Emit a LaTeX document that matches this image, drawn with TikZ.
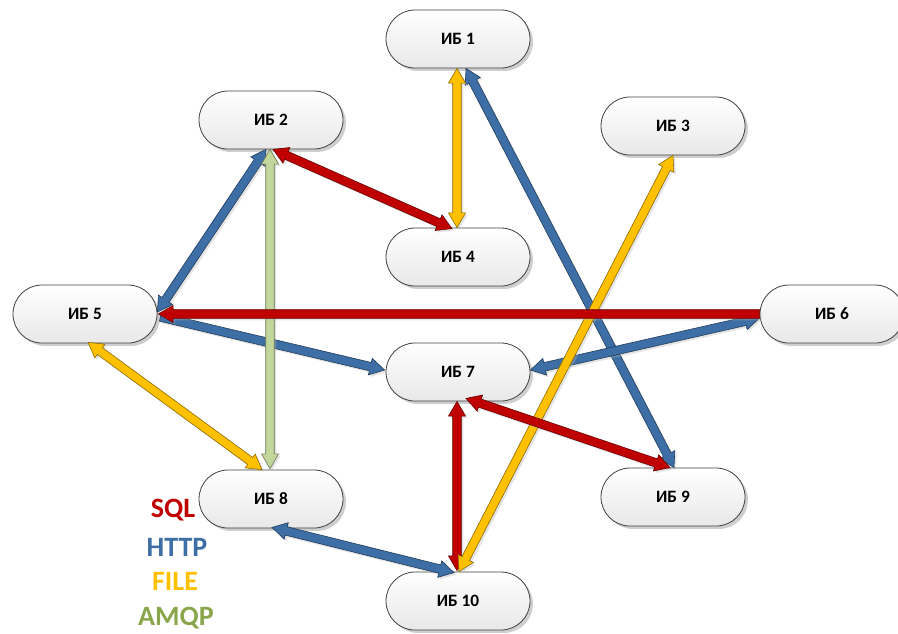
\documentclass[tikz,border=0pt]{standalone}
\usepackage{fontspec}
\setmainfont{Carlito}
\usetikzlibrary{calc,shadows}
\definecolor{sqlred}{HTML}{C00000}
\definecolor{httpblue}{HTML}{3D6FA6}
\definecolor{fileyellow}{HTML}{FFC000}
\definecolor{amqpfill}{HTML}{C3D69B}
\definecolor{amqptext}{HTML}{8AA64C}
\def\ahl{11pt}
\def\ahw{6.4pt}
\def\asw{3.2pt}
\tikzset{
  ib/.style={rectangle, rounded corners=21.7pt, minimum width=108pt, minimum height=43.5pt,
    draw=black!75, line width=0.6pt, top color=white, bottom color=black!9,
    drop shadow={shadow xshift=2.2pt, shadow yshift=-2.2pt, fill=black!35, opacity=0.55},
    font=\fontsize{13}{15}\selectfont\bfseries, text=black},
  blockarrow/.style={fill=#1, draw=#1!55!black, line width=0.45pt, line join=miter,
    drop shadow={shadow xshift=1.5pt, shadow yshift=-1.5pt, fill=black!30, opacity=0.35}},
  legend/.style={font=\fontsize{21}{25}\selectfont\bfseries, text=#1}
}
\newcommand\dblarrow[3]{%
  \coordinate (qA) at #2; \coordinate (qB) at #3;
  \coordinate (q1) at ($(qA)!\ahl!(qB)$);
  \coordinate (q2) at ($(qB)!\ahl!(qA)$);
  \path[blockarrow=#1] (qA) -- ($(q1)!\ahw!90:(qB)$) -- ($(q1)!\asw!90:(qB)$)
    -- ($(q2)!\asw!-90:(qA)$) -- ($(q2)!\ahw!-90:(qA)$) -- (qB)
    -- ($(q2)!\ahw!90:(qA)$) -- ($(q2)!\asw!90:(qA)$)
    -- ($(q1)!\asw!-90:(qB)$) -- ($(q1)!\ahw!-90:(qB)$) -- cycle;
}
\newcommand\sglarrow[3]{%
  \coordinate (qA) at #2; \coordinate (qB) at #3;
  \coordinate (q2) at ($(qB)!\ahl!(qA)$);
  \path[blockarrow=#1] ($(qA)!\asw!90:(qB)$)
    -- ($(q2)!\asw!-90:(qA)$) -- ($(q2)!\ahw!-90:(qA)$) -- (qB)
    -- ($(q2)!\ahw!90:(qA)$) -- ($(q2)!\asw!90:(qA)$)
    -- ($(qA)!\asw!-90:(qB)$) -- cycle;
}
\begin{document}
\begin{tikzpicture}[x=0.75pt, y=-0.75pt]
\useasboundingbox[fill=white] (0,0) rectangle (898,633);
% nodes
\node[ib] (n1) at (458,39) {ИБ 1};
\node[ib] (n2) at (271,120) {ИБ 2};
\node[ib] (n3) at (673,126) {ИБ 3};
\node[ib] (n4) at (458,257) {ИБ 4};
\node[ib] (n5) at (85,314) {ИБ 5};
\node[ib] (n6) at (832,314) {ИБ 6};
\node[ib] (n7) at (458,372) {ИБ 7};
\node[ib] (n8) at (271,499) {ИБ 8};
\node[ib] (n9) at (673,497) {ИБ 9};
\node[ib] (n10) at (458,601) {ИБ 10};
% HTTP
\dblarrow{httpblue}{($(n1.south)+(8,0)$)}{($(n9.north)+(1,0)$)}
\dblarrow{httpblue}{($(n2.south)+(-5,0)$)}{($(n5.east)+(0,-2)$)}
\sglarrow{httpblue}{($(n5.east)+(3,3)$)}{($(n7.west)+(-1,-2)$)}
\dblarrow{httpblue}{($(n6.west)+(0,4)$)}{($(n7.east)+(0,-2)$)}
\dblarrow{httpblue}{($(n8.south)+(1,-1)$)}{($(n10.north)+(-4,1)$)}
% AMQP
\dblarrow{amqpfill}{($(n2.south)+(-1,0)$)}{($(n8.north)+(-1,-1)$)}
% SQL (vertical under file)
\dblarrow{sqlred}{($(n10.north)+(-1,-1)$)}{($(n7.south)+(-1,0)$)}
% FILE
\dblarrow{fileyellow}{($(n1.south)+(-1,0)$)}{($(n4.north)+(-1,0)$)}
\dblarrow{fileyellow}{(n3.south)}{($(n10.north)+(1,0)$)}
\dblarrow{fileyellow}{($(n5.south)+(3,-1)$)}{($(n8.north)+(-9,0)$)}
% SQL
\dblarrow{sqlred}{($(n2.south)+(2,0)$)}{($(n4.north)+(-6,1)$)}
\sglarrow{sqlred}{(n6.west)}{($(n5.east)+(1,0)$)}
\dblarrow{sqlred}{($(n9.north)+(-3,0)$)}{($(n7.south)+(8,-3)$)}
% legend
\node[legend=sqlred] (lsql) at (173,510) {SQL};
\node[legend=httpblue] (lhttp) at (177,547) {HTTP};
\node[legend=fileyellow] (lfile) at (175,581) {FILE};
\node[legend=amqptext] (lamqp) at (176,618) {AMQP};
\end{tikzpicture}
\end{document}
